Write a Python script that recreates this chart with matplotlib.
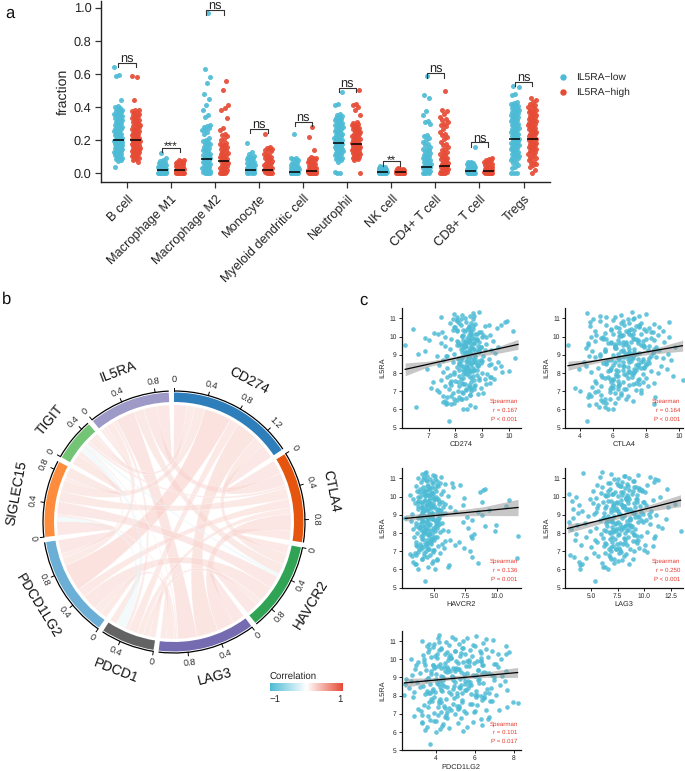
import matplotlib
matplotlib.use("Agg")
import numpy as np
import matplotlib.pyplot as plt
from matplotlib.colors import LinearSegmentedColormap
from matplotlib.lines import Line2D
from matplotlib.patches import Wedge, Arc, PathPatch
from matplotlib.path import Path

plt.rcParams['font.family'] = ['Liberation Sans', 'DejaVu Sans']
plt.rcParams['text.hinting'] = 'no_hinting'

W, H = 685, 771
BLUE, RED = '#4DBBD5', '#E64B35'

# ---------- panel a data ----------
cells = ['B cell', 'Macrophage M1', 'Macrophage M2', 'Monocyte', 'Myeloid dendritic cell',
         'Neutrophil', 'NK cell', 'CD4+ T cell', 'CD8+ T cell', 'Tregs']
groups = ['IL5RA\u2212low', 'IL5RA\u2212high']
b_low = [.64,.595,.59,.445,.405,.40,.395,.39,.385,.38,.375,.37,.365,.36,.355,.35,.345,.34,.335,.33,.325,.32,.315,.31,.305,.30,.295,.29,.285,.28,.275,.27,.265,.26,.255,.25,.245,.24,.235,.23,.225,.22,.215,.21,.205,.20,.20,.198,.195,.19,.188,.185,.18,.178,.175,.17,.168,.165,.16,.158,.155,.15,.148,.145,.14,.138,.135,.13,.128,.125,.12,.118,.115,.11,.105,.10,.095,.09,.085,.08,.075,.04]
b_high = [.585,.582,.44,.385,.38,.375,.37,.365,.36,.355,.35,.345,.34,.335,.33,.325,.32,.315,.31,.305,.30,.295,.29,.285,.28,.275,.27,.265,.26,.255,.25,.245,.24,.235,.23,.225,.22,.215,.21,.205,.20,.20,.198,.195,.19,.188,.185,.18,.178,.175,.17,.168,.165,.16,.158,.155,.15,.148,.145,.14,.138,.135,.13,.128,.125,.12,.115,.11,.105,.10,.095,.09,.085,.08,.07]
m1_low = [.122,.095,.08,.075,.07,.065,.06,.058,.055,.052,.05,.048,.045,.042,.04,.038,.036,.034,.032,.03,.028,.026,.024,.022,.02,.018,.016,.015,.014,.012,.011,.01,.008,.007,.006,.005,.004,.003,.002,.001,.001,.0,.0,.0]
m1_high = [.08,.078,.075,.07,.068,.065,.062,.06,.058,.055,.052,.05,.048,.045,.042,.04,.038,.036,.034,.032,.03,.028,.026,.024,.022,.02,.018,.017,.016,.015,.014,.012,.011,.01,.008,.007,.006,.005,.004,.003,.002,.001,.0,.0]
m2_low = [.965,.63,.58,.545,.48,.45,.415,.38,.35,.34,.29,.285,.28,.275,.27,.26,.25,.24,.215,.20,.195,.19,.18,.175,.17,.16,.155,.15,.14,.135,.13,.12,.115,.11,.105,.10,.095,.09,.085,.08,.075,.07,.065,.06,.055,.05,.045,.04,.035,.03,.025,.02,.015,.01,.008,.005,.003,.0,.0]
m2_high = [.555,.505,.41,.395,.385,.335,.275,.26,.235,.23,.225,.21,.20,.185,.18,.175,.17,.165,.16,.15,.145,.14,.13,.125,.12,.115,.11,.105,.10,.095,.09,.085,.08,.075,.07,.065,.06,.055,.05,.045,.04,.035,.03,.025,.02,.015,.01,.008,.005,.003,.0,.0]
mono_low = [.185,.13,.12,.105,.10,.098,.095,.09,.085,.08,.075,.07,.065,.06,.055,.052,.05,.045,.04,.038,.035,.032,.03,.028,.025,.022,.02,.018,.016,.014,.012,.01,.008,.006,.004,.002,.0,.0]
mono_high = [.235,.16,.155,.15,.145,.14,.135,.125,.12,.11,.105,.10,.095,.09,.085,.08,.075,.07,.065,.06,.055,.05,.045,.04,.035,.03,.028,.025,.022,.02,.018,.015,.012,.01,.008,.005,.003,.0,.0]
mye_low = [.235,.095,.09,.085,.08,.07,.065,.06,.055,.05,.045,.04,.038,.035,.032,.03,.028,.025,.022,.02,.018,.016,.014,.012,.01,.009,.008,.007,.006,.005,.004,.003,.002,.001,.0,.0,.0]
mye_high = [.28,.222,.142,.10,.095,.09,.085,.08,.075,.07,.065,.06,.055,.05,.045,.04,.038,.035,.032,.03,.028,.025,.022,.02,.018,.016,.014,.012,.01,.009,.008,.007,.005,.004,.003,.002,.001,.0,.0,.0]
neu_low = [.49,.42,.415,.36,.35,.345,.34,.335,.33,.325,.32,.315,.31,.305,.30,.295,.29,.285,.28,.275,.27,.265,.26,.255,.25,.245,.24,.235,.23,.225,.22,.215,.21,.205,.20,.195,.19,.185,.18,.178,.175,.17,.168,.165,.16,.158,.155,.15,.148,.145,.14,.138,.135,.13,.125,.12,.115,.11,.105,.10,.095,.09,.085,.08,.07,.01,.005,.0]
neu_high = [.505,.42,.41,.40,.385,.355,.31,.305,.30,.295,.29,.285,.28,.275,.27,.265,.26,.255,.25,.245,.24,.235,.23,.225,.22,.215,.21,.205,.20,.195,.19,.185,.18,.178,.175,.17,.168,.165,.16,.158,.155,.15,.148,.145,.14,.138,.135,.13,.128,.125,.12,.118,.115,.11,.105,.10,.095,.09,.085,.08,.0]
nk_low = [.045,.04,.036,.034,.032,.03,.028,.026,.024,.022,.02,.018,.016,.015,.014,.012,.011,.01,.009,.008,.007,.006,.005,.004,.003,.002,.001,.0,.0,.0,.0,.0]
nk_high = [.03,.028,.026,.024,.022,.02,.018,.017,.016,.015,.014,.012,.011,.01,.009,.008,.007,.006,.005,.004,.003,.002,.001,.0,.0,.0,.0,.0]
cd4_low = [.585,.47,.455,.375,.35,.315,.31,.30,.23,.225,.215,.20,.19,.175,.17,.16,.15,.145,.14,.13,.125,.115,.11,.105,.10,.095,.09,.085,.08,.075,.07,.065,.06,.055,.05,.045,.04,.035,.03,.025,.02,.015,.01,.005,.0,.0,.0]
cd4_high = [.50,.385,.375,.36,.34,.33,.32,.31,.30,.295,.285,.27,.25,.24,.23,.22,.205,.19,.18,.17,.16,.15,.14,.13,.125,.115,.11,.10,.095,.09,.085,.08,.07,.065,.06,.055,.05,.045,.04,.035,.03,.025,.02,.015,.01,.005,.0,.0,.0]
cd8_low = [.162,.07,.068,.065,.06,.058,.055,.052,.05,.048,.045,.042,.04,.038,.035,.032,.03,.028,.025,.022,.02,.018,.016,.015,.014,.012,.01,.008,.006,.005,.004,.003,.002,.001,.0,.0,.0]
cd8_high = [.09,.085,.08,.078,.075,.07,.065,.06,.055,.05,.048,.045,.042,.04,.038,.035,.032,.03,.028,.025,.022,.02,.018,.016,.014,.012,.01,.008,.006,.005,.004,.002,.001,.0,.0,.0]
treg_low = [.53,.52,.48,.47,.43,.425,.42,.415,.41,.405,.40,.395,.39,.385,.38,.375,.37,.365,.36,.355,.35,.345,.34,.335,.33,.325,.32,.315,.31,.305,.30,.295,.29,.285,.28,.275,.27,.265,.26,.255,.25,.245,.24,.235,.23,.225,.22,.215,.21,.205,.20,.195,.19,.185,.18,.175,.17,.165,.16,.155,.15,.145,.14,.135,.13,.125,.12,.115,.11,.105,.10,.095,.09,.085,.08,.07,.06,.05,.04,.03,.0,.0,.0]
treg_high = [.455,.445,.43,.42,.41,.405,.40,.395,.385,.38,.375,.37,.365,.36,.355,.35,.345,.34,.335,.33,.325,.32,.315,.31,.305,.30,.295,.29,.285,.28,.275,.27,.265,.26,.255,.25,.245,.24,.235,.23,.225,.22,.215,.21,.205,.20,.195,.19,.185,.18,.175,.17,.165,.16,.155,.15,.145,.14,.135,.13,.125,.12,.11,.10,.095,.09,.08,.07,.06,.055,.05,.04,.02,.0]
low_values = [b_low, m1_low, m2_low, mono_low, mye_low, neu_low, nk_low, cd4_low, cd8_low, treg_low]
high_values = [b_high, m1_high, m2_high, mono_high, mye_high, neu_high, nk_high, cd4_high, cd8_high, treg_high]
low_median = [.20,.02,.088,.018,.01,.183,.007,.04,.015,.21]
high_median = [.20,.022,.077,.02,.015,.175,.007,.045,.015,.205]
sig_labels = ['ns','***','ns','ns','ns','ns','**','ns','ns','ns']
sig_heights = [.668,.155,.985,.268,.312,.517,.0725,.604,.187,.553]

# ---------- panel b data ----------
genes = ['CD274','CTLA4','HAVCR2','LAG3','PDCD1','PDCD1LG2','SIGLEC15','TIGIT','IL5RA']
gene_colors = ['#2E7EBB','#E6550D','#31A354','#756BB1','#636363','#6BAED6','#FD8D3C','#74C476','#9E9AC8']
link_a = ['IL5RA','IL5RA','IL5RA','IL5RA','IL5RA','IL5RA','IL5RA','IL5RA',
          'CD274','CD274','CD274','CD274','CD274','CD274','CD274',
          'CTLA4','CTLA4','CTLA4','CTLA4','CTLA4','CTLA4',
          'HAVCR2','HAVCR2','HAVCR2','HAVCR2','HAVCR2',
          'LAG3','LAG3','LAG3','LAG3','PDCD1','PDCD1','PDCD1','PDCD1LG2','PDCD1LG2','SIGLEC15']
link_b = ['CD274','CTLA4','HAVCR2','LAG3','PDCD1LG2','PDCD1','SIGLEC15','TIGIT',
          'CTLA4','HAVCR2','LAG3','PDCD1','PDCD1LG2','SIGLEC15','TIGIT',
          'HAVCR2','LAG3','PDCD1','PDCD1LG2','SIGLEC15','TIGIT',
          'LAG3','PDCD1','PDCD1LG2','SIGLEC15','TIGIT',
          'PDCD1','PDCD1LG2','SIGLEC15','TIGIT','PDCD1LG2','SIGLEC15','TIGIT','SIGLEC15','TIGIT','TIGIT']
link_r = [.167,.164,.136,.25,.101,.05,.05,.04,
          .18,.14,.28,.12,.35,.14,.10,
          .12,.22,.08,.12,.14,.04,
          .16,.08,.2,.17,-.04,
          .08,.1,.03,.02,.09,-.06,-.07,.18,.06,.13]
ticks_by_gene = [[0,.4,.8,1.2],[0,.4,.8],[0,.4,.8],[0,.4,.8],[0,.4],[0,.4,.8],[0,.4,.8],[0,.4],[0,.4,.8]]

# ---------- panel c data ----------
il5ra = [5.36,6.02,6.05,6.12,6.15,6.25,6.28,6.3,6.33,6.38,
 6.42,6.48,6.52,6.58,6.6,6.63,6.66,6.7,6.75,6.8,
 6.84,6.88,6.92,6.96,7.0,7.03,7.06,7.1,7.14,7.18,
 7.2,7.24,7.27,7.3,7.34,7.37,7.4,7.44,7.47,7.5,
 7.53,7.56,7.6,7.63,7.66,7.7,7.73,7.76,7.8,7.83,
 7.86,7.9,7.93,7.96,8.0,8.03,8.06,8.1,8.13,8.16,
 8.2,8.23,8.26,8.3,8.33,8.36,8.4,8.43,8.46,8.5,
 8.53,8.56,8.6,8.63,8.66,8.7,8.73,8.76,8.8,8.83,
 8.86,8.9,8.93,8.96,9.0,9.03,9.06,9.1,9.13,9.16,
 9.2,9.23,9.26,9.3,9.33,9.36,9.4,9.43,9.46,9.5,
 9.53,9.56,9.6,9.63,9.66,9.7,9.73,9.76,9.8,9.83,
 9.86,9.9,9.93,9.96,10.0,10.03,10.06,10.1,10.13,10.16,
 10.2,10.23,10.26,10.3,10.33,10.37,10.4,10.43,10.47,10.5,
 10.54,10.58,10.62,10.66,10.7,10.74,10.78,10.82,10.86,10.9,
 10.94,10.98,11.02,11.06,11.1,11.14,11.18,11.22,11.3,11.35,
 8.15,8.45,8.72,8.95,9.12,9.38,9.55,9.72,9.95,10.15,
 7.95,8.25,8.55,8.82,9.05,9.28,9.48,9.68,9.88,10.08,
 7.65,8.08,8.38,8.68,8.92,9.18,9.42,9.62,9.82,10.28,
 7.45,7.78,8.18,8.48,8.78,9.02,9.22,9.52,9.78,10.38,
 7.15,7.58,8.02,8.28,8.58,8.88,9.08,9.34,9.58,10.52,
 7.1,7.42,7.72,8.04,8.32,8.62,8.84,9.04,9.24,9.44,
 9.64,9.84,10.04,10.24,10.44,10.64,10.84,7.32,7.68,8.14,
 6.9,7.22,7.52,7.82,8.12,8.42,8.64,8.85,9.06,9.26,
 9.46,9.66,9.86,10.06,10.26,10.46,10.72,6.72,6.95,7.28,
 8.22,8.44,8.66,8.86,9.04,9.2,9.36,9.54,9.7,9.9,
 10.12,10.34,10.56,10.76,10.96,11.12,7.88,8.09,8.31,8.52,
 8.74,8.94,9.14,9.29,9.49,9.69,9.89,10.09,10.31,10.6,
 6.55,6.82,7.08,7.36,7.64,7.92,8.17,8.39,8.59,8.79]
cd274 = [7.77,8.45,8.3,8.75,6.52,8.55,7.65,7.85,7.7,7.95,
 7.55,7.6,8.05,8.25,7.95,8.4,8.15,7.7,7.55,8.55,
 8.85,8.3,9.05,7.4,8.1,8.6,7.3,8.4,7.75,8.95,
 7.1,8.5,8.15,7.6,8.75,9.15,8.35,9.3,7.8,8.6,
 7.15,8.0,8.9,7.45,9.45,8.3,8.6,7.7,9.3,8.5,
 8.15,8.8,9.2,7.95,8.45,9.75,7.55,10.0,8.65,8.3,
 6.95,8.5,7.7,9.5,8.05,9.7,8.3,7.4,8.85,9.35,
 8.6,8.15,7.9,9.6,8.4,7.55,8.95,9.25,10.25,8.7,
 8.25,8.5,7.3,9.05,8.75,7.95,6.6,9.5,8.35,8.9,
 6.85,8.55,9.35,7.8,8.2,8.65,9.6,8.95,8.4,7.6,
 6.12,8.3,9.15,8.7,7.45,8.5,8.05,9.4,7.0,8.8,
 7.85,6.85,8.45,9.0,7.6,8.25,9.3,8.6,7.35,8.75,
 7.2,8.9,7.5,10.15,8.35,8.05,6.42,8.65,9.55,7.95,
 8.5,9.1,8.2,9.7,8.75,7.8,9.85,8.4,9.95,8.05,
 8.65,7.9,8.35,7.45,8.05,8.55,8.25,7.95,8.65,8.9,
 8.8,9.25,8.45,7.7,8.55,8.3,8.15,8.9,9.15,8.6,
 8.4,8.65,8.95,8.2,8.55,8.75,8.35,8.1,8.5,9.05,
 9.1,8.55,8.2,8.85,7.65,8.4,8.95,8.7,8.3,8.6,
 8.25,9.35,8.7,8.45,8.1,8.6,8.85,8.35,8.5,7.9,
 8.6,7.85,9.0,8.4,8.7,8.25,8.45,8.65,8.2,8.0,
 8.7,8.3,8.9,7.95,8.45,8.75,8.15,8.55,9.1,8.35,
 8.6,8.8,8.25,8.55,8.45,9.25,8.05,8.5,8.2,8.35,
 7.9,8.55,8.1,8.65,8.35,8.8,9.0,8.25,8.7,8.5,
 8.85,8.4,8.6,8.3,8.95,8.5,8.15,7.85,8.25,8.7,
 8.45,8.6,8.2,8.75,8.35,8.9,8.55,8.05,8.4,8.65,
 8.8,8.3,8.5,8.6,8.2,8.7,7.8,8.55,8.4,8.15,
 8.7,8.45,8.25,8.9,8.6,8.35,8.75,8.5,8.05,8.65,
 8.2,8.55,8.4,7.85,8.7,8.3,8.15,8.85,8.5,8.6]
ctla4 = [4.45,6.0,5.7,5.15,5.55,4.55,8.5,5.0,5.6,6.1,
 5.4,7.2,5.3,5.55,5.85,6.3,8.55,4.5,4.7,6.5,
 4.55,7.7,6.1,4.9,4.0,5.1,7.4,5.8,6.7,6.0,
 3.7,4.75,8.1,5.3,7.0,6.4,7.6,5.0,8.5,5.9,
 6.6,4.9,7.5,10.2,5.8,6.9,8.0,5.35,7.15,6.3,
 9.6,5.3,7.8,6.2,8.7,4.7,7.3,5.7,8.3,6.6,
 3.95,9.25,5.1,7.7,6.9,4.4,8.9,6.4,7.4,5.6,
 5.4,8.2,6.6,4.25,7.1,9.5,5.9,7.8,9.0,6.3,
 4.9,8.6,4.55,7.2,6.0,9.3,5.2,7.6,8.4,6.7,
 4.75,6.5,8.8,5.5,7.0,4.4,9.75,6.1,7.9,8.2,
 4.5,3.3,6.8,4.5,5.9,9.1,7.5,4.95,8.5,6.3,
 8.0,5.3,7.2,4.7,9.4,6.5,5.0,8.7,7.7,6.0,
 5.5,8.3,6.9,9.0,4.9,7.3,5.9,7.9,6.4,8.8,
 6.2,4.65,7.6,5.6,8.5,7.0,4.6,9.4,6.6,6.0,
 6.9,4.8,7.3,5.6,6.1,7.6,6.5,8.0,4.45,7.15,
 5.8,7.5,6.4,8.3,7.0,6.1,7.7,6.8,5.4,7.2,
 6.7,7.9,5.6,7.1,6.3,8.1,6.9,5.9,7.4,6.5,
 6.0,7.3,6.6,7.8,5.2,7.0,8.6,6.4,7.5,6.8,
 7.4,5.7,6.2,8.0,6.9,7.2,5.5,6.6,7.8,7.0,
 6.8,6.3,7.1,5.9,7.7,6.5,8.4,7.3,6.1,7.6,
 6.3,7.2,5.5,6.9,7.5,6.1,8.2,7.0,6.6,7.9,
 5.7,7.3,6.4,8.4,7.1,6.7,5.2,6.0,7.6,7.4,
 6.5,5.9,7.8,6.2,7.0,8.0,5.6,7.2,6.8,8.6,
 6.1,7.5,5.4,7.1,6.4,8.2,7.7,6.9,5.8,6.3,
 7.3,6.0,8.1,6.7,7.4,5.5,6.2,7.8,6.6,8.3,
 7.0,5.9,7.6,6.5,7.2,5.2,6.8,6.3,7.9,7.5,
 5.7,6.9,7.3,8.5,6.1,7.1,5.6,6.6,8.0,7.4,
 6.8,5.3,7.7,6.4,6.0,7.2,5.8,6.7,7.0,7.5]
havcr2 = [4.3,3.75,5.1,6.1,4.55,6.2,3.5,3.6,4.8,8.5,
 3.3,4.95,5.2,4.0,5.25,11.6,4.4,8.05,3.25,4.7,
 3.05,4.2,5.5,3.7,4.35,7.9,5.0,4.6,3.8,5.8,
 7.35,4.1,5.35,3.95,6.65,4.75,5.6,4.25,4.5,7.0,
 3.55,5.9,4.4,6.25,4.0,4.65,8.0,5.2,3.4,7.95,
 11.7,4.15,8.15,4.85,3.65,5.45,4.3,9.85,6.15,5.7,
 3.35,4.55,7.7,4.95,3.85,9.1,4.2,5.15,9.95,4.7,
 5.65,3.6,4.45,7.3,3.2,5.05,8.0,4.0,2.7,5.4,
 4.6,7.65,3.9,4.3,8.85,5.6,3.25,4.85,8.5,4.1,
 6.7,4.5,9.35,3.7,5.3,4.75,6.25,4.05,10.7,5.0,
 7.3,4.4,5.85,3.5,4.9,8.85,4.2,5.4,11.0,4.6,
 3.3,4.7,7.35,5.15,3.9,6.1,4.45,3.1,5.55,4.0,
 4.85,8.65,4.25,5.7,3.65,8.9,4.6,9.05,5.05,6.55,
 4.1,5.35,7.05,4.5,5.85,6.4,4.8,3.95,5.2,4.35,
 4.65,5.05,3.75,4.2,5.55,4.45,4.9,4.05,4.3,4.35,
 4.2,5.3,4.55,3.9,4.8,5.1,4.35,5.6,3.7,4.95,
 4.6,3.8,5.2,4.4,4.05,5.45,4.7,3.95,5.0,4.25,
 4.85,4.15,3.6,5.35,4.5,4.0,5.75,4.65,4.3,5.15,
 4.45,5.05,4.25,3.85,4.9,5.5,4.1,4.75,3.75,4.55,
 3.95,4.7,4.35,5.25,4.05,4.6,5.9,4.5,5.4,4.8,
 4.5,3.9,4.9,4.2,5.1,4.35,3.7,4.7,5.3,4.05,
 4.6,5.0,4.25,4.8,3.85,5.2,4.45,3.6,4.15,4.95,
 3.5,4.4,4.75,3.95,5.05,4.55,4.1,5.35,4.65,4.3,
 4.85,4.0,5.15,4.5,3.8,4.7,5.45,4.2,4.9,3.65,
 4.35,4.6,5.25,3.9,4.8,5.55,4.05,4.45,3.75,5.0,
 4.7,4.25,3.55,4.95,4.15,5.1,4.5,4.65,3.85,5.4,
 4.0,4.85,5.2,4.3,3.7,4.55,5.3,4.75,4.1,4.4,
 4.05,3.6,4.9,4.35,5.0,4.6,3.95,4.2,5.15,4.8]
lag3 = [5.35,6.55,3.95,6.15,6.3,4.0,8.6,4.15,6.0,7.2,
 3.85,7.5,7.9,6.85,7.15,4.55,6.75,3.45,5.7,3.05,
 8.3,5.3,6.3,7.85,9.05,6.9,10.0,7.35,8.65,9.5,
 7.6,5.0,10.8,7.1,4.1,8.0,6.4,9.3,7.75,5.6,
 6.95,8.9,5.35,3.5,7.25,10.95,6.1,8.45,4.55,9.7,
 11.0,7.5,3.6,5.9,8.15,10.3,6.8,13.4,4.9,7.05,
 3.1,9.1,11.7,5.45,7.9,11.25,6.5,8.6,3.7,10.55,
 4.4,7.35,9.85,2.9,8.35,5.8,10.2,12.0,7.0,3.35,
 9.4,6.2,4.75,8.1,11.1,7.65,5.25,3.8,9.0,6.85,
 10.6,4.2,7.4,8.7,3.3,5.6,12.2,8.0,6.4,9.6,
 3.9,7.1,12.9,5.15,8.5,9.9,3.2,6.6,10.8,7.8,
 4.9,8.25,5.5,11.5,3.55,7.5,9.3,6.3,2.95,8.8,
 5.9,10.1,7.25,8.9,5.2,9.55,12.1,6.8,8.2,6.0,
 9.2,7.7,5.55,10.3,8.4,6.55,10.9,7.9,9.0,11.3,
 11.0,7.2,8.6,5.8,10.5,8.05,9.45,6.9,4.25,6.0,
 7.8,8.3,9.7,6.6,8.9,7.3,5.7,10.0,8.5,7.0,
 9.0,7.6,6.4,8.7,10.4,7.2,8.1,6.1,9.3,7.9,
 8.2,7.1,8.8,6.7,9.5,5.5,8.0,7.4,8.4,9.8,
 6.3,7.0,8.5,7.7,6.5,9.1,7.5,10.2,6.9,8.6,
 7.3,9.2,6.8,8.0,7.55,10.5,6.2,8.35,7.85,9.0,
 6.7,7.4,8.1,8.8,7.0,9.4,6.1,7.7,8.3,9.1,
 7.2,8.6,6.4,8.0,9.6,7.5,8.9,10.1,6.8,8.4,
 7.6,6.9,8.2,9.3,7.3,8.7,6.5,7.9,9.9,8.5,
 7.1,9.0,8.3,6.6,7.8,9.5,7.4,8.1,10.3,6.2,
 7.35,8.55,6.95,9.15,7.65,8.85,6.35,7.95,9.35,8.25,
 7.05,9.75,8.45,6.75,7.55,8.15,9.05,6.45,8.75,7.25,
 8.65,7.15,9.65,6.85,8.05,7.45,9.25,8.35,6.55,7.85,
 8.95,6.65,7.75,8.4,9.45,7.6,6.25,8.2,7.0,8.7]
pdcd1lg2 = [3.7,4.0,5.4,3.45,4.2,4.7,3.55,5.6,4.35,6.4,
 4.4,5.15,3.3,5.9,4.0,3.9,3.7,6.35,4.6,5.3,
 6.75,2.9,3.3,4.1,5.0,5.55,3.9,4.25,6.0,3.25,
 7.25,6.6,3.1,4.7,5.2,3.6,7.65,4.45,6.1,3.4,
 4.9,5.75,8.2,3.65,7.95,6.9,4.15,5.35,3.75,4.55,
 6.5,2.85,3.9,5.1,6.3,2.4,7.1,4.8,6.75,3.7,
 2.9,4.35,6.05,7.65,5.5,3.85,2.65,6.85,4.6,5.2,
 3.35,7.3,5.8,2.45,4.1,6.45,3.05,5.0,7.55,2.75,
 4.9,6.2,2.5,3.6,7.0,5.45,4.3,7.4,2.8,5.9,
 4.0,6.6,3.2,5.3,7.6,4.75,3.5,6.15,2.95,5.05,
 3.9,7.2,4.45,5.7,3.0,6.4,4.2,7.0,5.15,3.4,
 3.1,6.1,5.6,4.65,2.75,7.35,4.05,6.7,3.75,5.25,
 5.85,3.35,7.6,4.5,6.35,7.75,3.6,5.0,6.9,4.15,
 4.3,6.6,5.4,3.85,7.6,6.0,4.7,5.2,3.65,6.45,
 4.55,5.4,3.3,6.95,5.0,4.1,5.6,4.85,6.05,4.15,
 5.35,4.2,6.2,3.6,6.9,5.0,4.6,7.1,5.7,3.95,
 6.05,3.8,4.95,5.5,4.4,6.5,5.15,3.45,6.3,4.8,
 4.25,5.8,6.65,4.05,5.25,3.75,6.15,5.55,4.5,7.2,
 5.1,6.4,4.7,3.2,5.65,4.35,6.75,4.9,5.95,4.6,
 5.45,4.15,6.0,3.55,5.3,7.0,4.85,4.5,3.95,5.75,
 4.6,5.2,3.8,6.1,4.3,5.5,3.5,4.9,6.4,5.0,
 4.1,5.7,3.4,4.75,6.25,5.35,3.9,4.5,6.8,5.1,
 3.6,4.8,5.85,4.2,6.55,5.25,3.7,4.4,6.0,5.6,
 4.65,3.85,5.4,6.3,4.05,5.0,3.55,6.7,4.55,5.15,
 3.95,5.65,4.35,6.15,4.85,5.45,3.75,4.25,6.45,5.05,
 4.7,5.3,3.65,5.9,4.15,6.6,4.95,3.45,5.55,4.45,
 5.75,4.0,6.05,4.6,5.2,3.85,6.35,4.8,5.5,4.3,
 3.3,4.5,5.95,4.1,5.35,6.5,3.6,4.9,5.7,4.2]
scatter_names = ['CD274','CTLA4','HAVCR2','LAG3','PDCD1LG2']
scatter_x = [cd274, ctla4, havcr2, lag3, pdcd1lg2]
scatter_xticks = [[7,8,9,10],[4,6,8,10],[5,7.5,10],[5,7.5,10,12.5],[4,6,8]]
scatter_xticklabels = [['7','8','9','10'],['4','6','8','10'],['5.0','7.5','10.0'],['5.0','7.5','10.0','12.5'],['4','6','8']]
scatter_xlim = [(5.99,10.45),(3.12,10.24),(2.42,11.91),(2.56,13.66),(2.26,8.36)]
band_x = [[6.12,7,8,8.6,9.5,10.35],[3.3,5,6.8,8.5,10.2],[2.7,4.7,6.5,9,11.7],[2.8,5.5,8,10.5,13.4],[2.4,3.8,5,6.6,8.2]]
band_lo = [[7.85,8.35,8.7,8.88,9.05,9.3],[8.15,8.55,8.86,9.05,9.2],[8.65,8.85,8.93,8.96,8.95],[8.0,8.45,8.85,9.2,9.45],[8.45,8.72,8.9,9.0,9.0]]
band_hi = [[8.55,8.65,8.92,9.12,9.4,9.85],[8.65,8.75,9.05,9.35,9.8],[9.0,9.1,9.22,9.45,9.85],[8.5,8.7,9.07,9.55,10.1],[8.95,8.98,9.1,9.3,9.55]]
fit_x = [[6.12,10.35],[3.3,10.2],[2.7,11.7],[2.8,13.4],[2.4,8.2]]
fit_y = [[8.2,9.57],[8.4,9.5],[8.8,9.4],[8.25,9.8],[8.7,9.27]]
stat_r = ['r = 0.167','r = 0.164','r = 0.136','r = 0.250','r = 0.101']
stat_p = ['P < 0.001','P < 0.001','P = 0.001','P < 0.001','P = 0.017']
scatter_boxes = [(401.7,308.3,520.7,427.7),(565,308.3,683.3,427.7),
                 (401.7,468.3,520.7,587.7),(565,468.3,683.3,587.7),
                 (401.7,631,520.7,750.3)]

fig = plt.figure(figsize=(W/100, H/100), dpi=100)

def px_axes(x0, y0, x1, y1, **kw):
    return fig.add_axes([x0/W, 1-y1/H, (x1-x0)/W, (y1-y0)/H], **kw)

# ---------- panel a ----------
ax = px_axes(101, 1, 550, 181.7)
ax.set_xlim(-0.59, 9.6)
ax.set_ylim(-0.05, 1.04)
dodge = 0.198
golden = 0.618034
half_width = 0.095
for i, (lv, hv) in enumerate(zip(low_values, high_values)):
    for vals, col, sign, med in ((lv, BLUE, -1, low_median[i]), (hv, RED, 1, high_median[i])):
        n = len(vals)
        spread = (np.arange(n)*golden + 0.37*i) % 1 - 0.5
        xs = i + sign*dodge + spread*2*half_width
        ax.scatter(xs, vals, s=13, color=col, alpha=.92, lw=0, clip_on=False, zorder=2)
        ax.plot([i+sign*dodge-.125, i+sign*dodge+.125], [med, med], color='black', lw=1.1, zorder=3, solid_capstyle='butt')
    h = sig_heights[i]
    ax.plot([i-dodge, i-dodge, i+dodge, i+dodge], [h-.027, h, h, h-.027], color='#333333', lw=.8, clip_on=False, zorder=3)
    if sig_labels[i] == 'ns':
        ax.text(i, h+.006, 'ns', ha='center', va='baseline', fontsize=9.2, color='#222222', clip_on=False)
    else:
        ax.text(i, h-.014, sig_labels[i], ha='center', va='baseline', fontsize=8.5, color='#222222', clip_on=False)
ax.set_xticks(range(len(cells)))
ax.set_xticklabels(cells, rotation=45, ha='right', rotation_mode='anchor', fontsize=9.2, color='#222222')
ax.set_yticks([0,.2,.4,.6,.8,1.0])
ax.set_yticklabels(['0.0','0.2','0.4','0.6','0.8','1.0'], fontsize=9.2, color='#222222')
ax.set_ylabel('fraction', fontsize=10.2, color='#222222', labelpad=3)
ax.tick_params(length=4, width=.9, color='#333333', pad=3)
ax.tick_params(axis='x', pad=4)
for s in ('top','right'):
    ax.spines[s].set_visible(False)
for s in ('left','bottom'):
    ax.spines[s].set_linewidth(1.0)
    ax.spines[s].set_color('#222222')
handles = [Line2D([],[],marker='o',ls='',ms=3.6,color=c) for c in (BLUE, RED)]
fig.legend(handles, groups, loc='upper left', bbox_to_anchor=(550/W, 1-68/H), frameon=False,
           fontsize=7.4, labelspacing=.55, handletextpad=.4, borderpad=0, handlelength=1.6, labelcolor='#222222')

# ---------- panel b ----------
cmap = LinearSegmentedColormap.from_list('corr', [BLUE, 'white', RED])
axc = px_axes(174-174, 522-180, 174+174, 522+180)
axc.set_xlim(-174, 174); axc.set_ylim(-180, 180)
axc.axis('off')
R_out, R_ring_out, R_ring_in, R_link = 131, 129.5, 120, 117
gap = 2.3
n_genes = len(genes)
idx = {g: i for i, g in enumerate(genes)}
totals = [0.0]*n_genes
for a, b, r in zip(link_a, link_b, link_r):
    totals[idx[a]] += abs(r); totals[idx[b]] += abs(r)
deg_per_unit = (360 - n_genes*gap) / sum(totals)
starts, ends = [], []
ang = 90.0
for t in totals:
    starts.append(ang)
    ang -= t*deg_per_unit
    ends.append(ang)
    ang -= gap

def polar(a, rad):
    t = np.deg2rad(a)
    return rad*np.cos(t), rad*np.sin(t)

def text_rot(a):
    a = (a + 180) % 360 - 180
    return a + 90 if -180 < a < -5 else a - 90

for i, g in enumerate(genes):
    axc.add_patch(Wedge((0,0), R_ring_out, ends[i], starts[i], width=R_ring_out-R_ring_in, color=gene_colors[i], lw=0))
    axc.add_patch(Arc((0,0), 2*R_out, 2*R_out, theta1=ends[i], theta2=starts[i], color='black', lw=.9))
    for v in ticks_by_gene[i]:
        a = starts[i] - v*deg_per_unit
        x0, y0 = polar(a, R_out); x1, y1 = polar(a, R_out+3.5)
        axc.plot([x0,x1],[y0,y1], color='black', lw=.7)
        tx, ty = polar(a, R_out+11)
        axc.text(tx, ty, '0' if v == 0 else f'{v:g}', rotation=text_rot(a), ha='center', va='center',
                 rotation_mode='anchor', fontsize=6.6, color='#222222')
    mid = (starts[i]+ends[i])/2
    tx, ty = polar(mid, 160)
    axc.text(tx, ty, g, rotation=text_rot(mid), ha='center', va='center', rotation_mode='anchor',
             fontsize=9.9, color='#111111')

# order of the links inside each sector, clockwise: nearest anticlockwise neighbour first
partners = {i: [] for i in range(n_genes)}
for k, (a, b) in enumerate(zip(link_a, link_b)):
    ia, ib = idx[a], idx[b]
    partners[ia].append((ib, k)); partners[ib].append((ia, k))
placed = {}
for i in range(n_genes):
    order = sorted(partners[i], key=lambda p: -((p[0]-i) % n_genes))
    cur = starts[i]
    for j, k in order:
        w = abs(link_r[k])*deg_per_unit
        placed[(i, k)] = (cur, cur-w)
        cur -= w

def arc_pts(a0, a1, rad=R_link):
    return [polar(a, rad) for a in np.linspace(a0, a1, 14)]

for k, (a, b, r) in enumerate(zip(link_a, link_b, link_r)):
    ia, ib = idx[a], idx[b]
    a0, a1 = placed[(ia, k)]
    b0, b1 = placed[(ib, k)]
    pa, pb = arc_pts(a0, a1), arc_pts(b0, b1)
    verts = pa + [(0,0)] + pb + [(0,0)] + [pa[0]]
    codes = [Path.MOVETO] + [Path.LINETO]*(len(pa)-1) + [Path.CURVE3, Path.CURVE3] + \
            [Path.LINETO]*(len(pb)-1) + [Path.CURVE3, Path.CURVE3]
    tone = .18 + .3*abs(r)
    col = cmap(.5 + np.sign(r)*tone/2)
    axc.add_patch(PathPatch(Path(verts, codes), facecolor=col, alpha=.55 if r > 0 else .35,
                            edgecolor='white', lw=.4))

# colour bar
axb = px_axes(270, 683.3, 342.7, 691)
axb.imshow(np.linspace(0,1,256).reshape(1,-1), cmap=cmap, aspect='auto')
axb.axis('off')
fig.text(270/W, 1-676/H, 'Correlation', fontsize=6.9, va='center', ha='left', color='#222222')
fig.text(275/W, 1-699.5/H, '\u22121', fontsize=6.9, va='center', ha='center', color='#222222')
fig.text(340/W, 1-699.5/H, '1', fontsize=6.9, va='center', ha='center', color='#222222')

# ---------- panel c ----------
for i, name in enumerate(scatter_names):
    a = px_axes(*scatter_boxes[i])
    n = min(len(il5ra), len(scatter_x[i]))
    a.scatter(scatter_x[i][:n], il5ra[:n], s=11, color=BLUE, alpha=.85, lw=0, clip_on=False, zorder=2)
    a.fill_between(band_x[i], band_lo[i], band_hi[i], color='#999999', alpha=.55, lw=0, zorder=3)
    a.plot(fit_x[i], fit_y[i], color='black', lw=.9, zorder=4)
    a.set_xlim(*scatter_xlim[i]); a.set_ylim(5, 11.55)
    a.set_yticks(range(5, 12))
    a.set_xticks(scatter_xticks[i]); a.set_xticklabels(scatter_xticklabels[i])
    a.tick_params(labelsize=4.8, length=2, width=.6, pad=1.5, labelcolor='#222222')
    a.set_xlabel(name, fontsize=5.3, labelpad=1.5, color='#222222')
    a.set_ylabel('IL5RA', fontsize=5.3, labelpad=2.5, color='#222222')
    for s in ('top','right'):
        a.spines[s].set_visible(False)
    for s in ('left','bottom'):
        a.spines[s].set_linewidth(.9)
        a.spines[s].set_color('#111111')
    for txt, yy in (('Spearman',.219),(stat_r[i],.146),(stat_p[i],.073)):
        a.text(.975, yy, txt, transform=a.transAxes, ha='right', va='center', fontsize=4.4, color='#E8392E', zorder=5)

# panel letters
fig.text(5/W, 1-13/H, 'a', fontsize=12, va='center', ha='left', color='#111111')
fig.text(2/W, 1-299/H, 'b', fontsize=12, va='center', ha='left', color='#111111')
fig.text(359/W, 1-300/H, 'c', fontsize=12, va='center', ha='left', color='#111111')

fig.savefig('out.png', dpi=100)
